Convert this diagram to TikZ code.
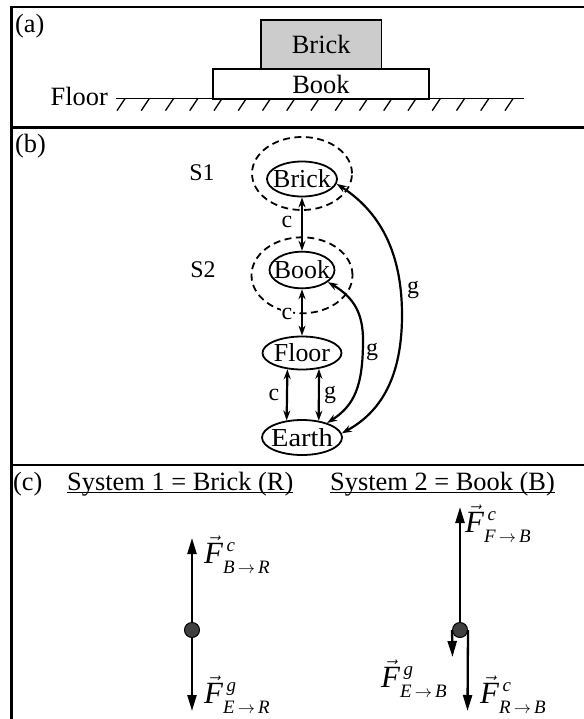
\documentclass[tikz,border=0pt]{standalone}
\usepackage{fontspec}
\setmainfont{Liberation Serif}
\usetikzlibrary{arrows.meta,shapes.geometric}
\newcommand{\scr}[1]{\hbox{\fontsize{19}{19}\selectfont\itshape #1}}
\newcommand{\forcelbl}[3]{$\vec{\mathit{F}}^{\,\raisebox{3bp}{\scr{#1}}}_{\raisebox{-4bp}{\scr{#2\,$\to$\,#3}}}$}
\begin{document}
\begin{tikzpicture}[x=1bp,y=-1bp,
  txt/.style={font=\fontsize{26.5}{31}\selectfont, inner sep=0pt},
  lbl/.style={font=\fontsize{24}{28}\selectfont, inner sep=0pt},
  flabel/.style={font=\fontsize{31}{36}\selectfont, inner sep=0pt, anchor=base west},
  frame/.style={line width=2.2bp},
  slab/.style={draw, line width=1.8bp, inner sep=0pt, anchor=north west, font=\fontsize{26.5}{31}\selectfont},
  body/.style={draw, ellipse, line width=1.8bp, inner sep=0pt, font=\fontsize{26}{30}\selectfont},
  ring/.style={draw, ellipse, dash pattern=on 7bp off 4.5bp, line width=1.8bp, inner sep=0pt},
  link/.style={line width=2.2bp, {Stealth[length=10bp,width=7bp]}-{Stealth[length=10bp,width=7bp]}},
  force/.style={line width=2.3bp, -{Triangle[length=16bp,width=9bp]}},
  dot/.style={circle, draw, fill=black!75, line width=1bp, minimum size=15bp, inner sep=0pt}]
  \useasboundingbox (0,0) rectangle (584,719);
  % frame and panel dividers
  \draw[frame] (590,7) -- (11.5,7) -- (11.5,725);
  \draw[frame] (11.5,127.5) -- (590,127.5);
  \draw[frame] (11.5,465) -- (590,465);
  \node[txt, anchor=base west] at (15,33) {(a)};
  \node[txt, anchor=base west] at (15,152) {(b)};
  \node[txt, anchor=base west] at (13,490) {(c)};

  % (a) brick on book on floor
  \node[slab, fill=black!20, minimum width=120.6bp, minimum height=48.6bp] (brick) at (260,19.4) {Brick};
  \node[slab, fill=white, minimum width=216bp, minimum height=30.6bp] (book) at (212,68) {Book};
  \draw[line width=1.8bp] (115.7,98.6) -- (524,98.6);
  \foreach \k in {0,...,16}
    \draw[line width=1.3bp] (125+24.25*\k,98.6) -- ++(-8,12);
  \node[txt, anchor=base east] (floorlbl) at (108,105.5) {Floor};

  % (b) interaction diagram
  \node[body, minimum width=70bp, minimum height=35bp] (brickS) at (302,179) {\makebox[0pt]{Brick}};
  \node[ring, minimum width=100bp, minimum height=73bp] (ringA) at (302,173.5) {};
  \node[body, minimum width=65bp, minimum height=36.6bp] (bookS) at (302,270) {\makebox[0pt]{Book}};
  \node[ring, minimum width=101bp, minimum height=76bp] (ringB) at (302,275.3) {};
  \node[body, minimum width=79bp, minimum height=33bp] (floorS) at (302,353) {\makebox[0pt]{Floor}};
  \node[body, minimum width=80bp, minimum height=35bp] (earthS) at (302,437.5) {\makebox[0pt]{\scalebox{1.1}[1]{Earth}}};
  \node[lbl] (sA) at (202,173) {S1};
  \node[lbl] (sB) at (203,270) {S2};

  \draw[link] (brickS.south) -- (bookS.north);
  \draw[link] (bookS.south) -- (floorS.north);
  \draw[link] (floorS.228) -- (earthS.132);
  \draw[link] (floorS.-43) -- (earthS.45);
  \draw[link] (bookS.-25) .. controls (355,298) and (363,315) .. (363,340)
    .. controls (363,385) and (355,405) .. (earthS.30);
  \draw[link] (brickS.-8) .. controls (385,215) and (402,260) .. (402,315)
    .. controls (402,385) and (375,415) .. (earthS.6);
  \node[lbl] at (287,222) {c};
  \node[lbl, fill=white, inner sep=1bp] at (287,314) {c};
  \node[lbl] at (274,395) {c};
  \node[lbl] at (330,395) {g};
  \node[lbl] at (372,352) {g};
  \node[lbl] at (413,290) {g};

  % (c) free-body diagrams
  \node[txt, anchor=base west] (sysA) at (67,490) {System 1 = Brick (R)};
  \node[txt, anchor=base west] (sysB) at (330,490) {System 2 = Book (B)};
  \draw[line width=1.2bp] ([yshift=-2.5bp]sysA.base west) -- ([yshift=-2.5bp]sysA.base east);
  \draw[line width=1.2bp] ([yshift=-2.5bp]sysB.base west) -- ([yshift=-2.5bp]sysB.base east);

  \node[dot] (dotR) at (192,630) {};
  \coordinate (upR) at (192,538);
  \coordinate (downR) at (192,711);
  \draw[force] (dotR.north) -- (upR);
  \draw[force] (dotR.south) -- (downR);
  \node[flabel] at (204,563) {\forcelbl{c}{B}{R}};
  \node[flabel] at (204,703) {\forcelbl{g}{E}{R}};

  \node[dot] (dotB) at (460,630) {};
  \coordinate (upB) at (460,507);
  \coordinate (gravB) at (452.5,657);
  \coordinate (downB) at (467.5,711);
  \draw[force] (dotB.north) -- (upB);
  \draw[force] (dotB.west) -- (gravB);
  \draw[force] (dotB.east) -- (downB);
  \node[flabel] at (465,532) {\forcelbl{c}{F}{B}};
  \node[flabel] at (381,687) {\forcelbl{g}{E}{B}};
  \node[flabel] at (480,703) {\forcelbl{c}{R}{B}};
\end{tikzpicture}
\end{document}
